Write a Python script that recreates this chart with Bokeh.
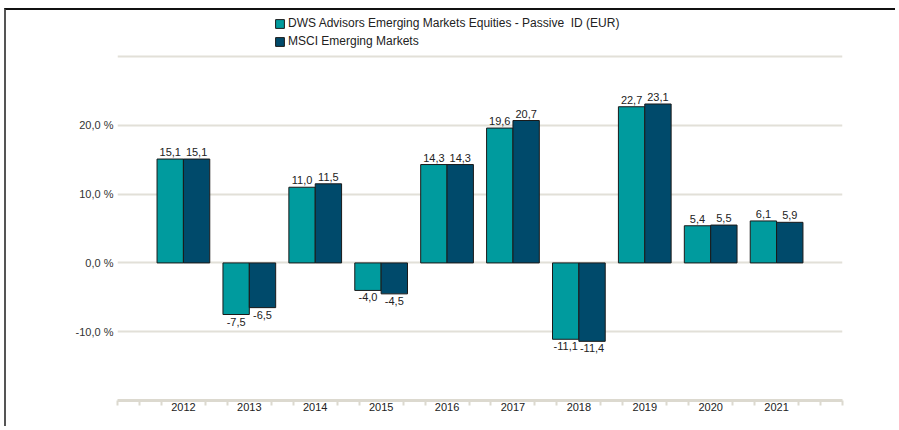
import numpy as np
from bokeh.plotting import figure
from bokeh.models import ColumnDataSource, FixedTicker, Legend, LegendItem
from bokeh.core.properties import value
from bokeh.embed import file_html
from bokeh.resources import INLINE

# ---- data ----
years = [2012, 2013, 2014, 2015, 2016, 2017, 2018, 2019, 2020, 2021]
fund_name = "DWS Advisors Emerging Markets Equities - Passive  ID (EUR)"
index_name = "MSCI Emerging Markets"
fund_values = [15.1, -7.5, 11.0, -4.0, 14.3, 19.6, -11.1, 22.7, 5.4, 6.1]
index_values = [15.1, -6.5, 11.5, -4.5, 14.3, 20.7, -11.4, 23.1, 5.5, 5.9]
y_ticks = [-20, -10, 0, 10, 20, 30]
y_tick_labels = {-20: "", -10: "-10,0 %", 0: "0,0 %", 10: "10,0 %", 20: "20,0 %", 30: ""}

TEAL = "#009B9E"
NAVY = "#004A6B"
FONT = "Liberation Sans"
BEIGE = "#DCD9CF"


def fmt(v):
    return f"{v:.1f}".replace(".", ",")


def make_source(vals, shift):
    return ColumnDataSource(dict(
        x=[y + shift for y in years],
        top=vals,
        label=[fmt(v) for v in vals],
        base=["bottom" if v >= 0 else "top" for v in vals],
        off=[-3 if v >= 0 else 3 for v in vals],
    ))


src_fund = make_source(fund_values, -0.2)
src_index = make_source(index_values, 0.2)

p = figure(width=891, height=418, x_range=(2011, 2022), y_range=(-20, 36.4),
           output_backend="svg", toolbar_location=None,
           min_border_left=111, min_border_right=55,
           min_border_top=2, min_border_bottom=28)
p.styles = {"border-top": "2px solid #111111", "border-left": "2px solid #555555",
            "margin-top": "8px", "margin-left": "4px"}
p.outline_line_color = None
p.background_fill_color = "white"
p.border_fill_color = "white"

r_fund = p.vbar(x="x", top="top", bottom=0, width=0.4, source=src_fund,
                fill_color=TEAL, line_color="#1a1a1a", line_width=1)
r_index = p.vbar(x="x", top="top", bottom=0, width=0.4, source=src_index,
                 fill_color=NAVY, line_color="#1a1a1a", line_width=1)

for src in (src_fund, src_index):
    p.text(x="x", y="top", text="label", source=src, text_align="center",
           text_baseline="base", y_offset="off", text_font=value(FONT),
           text_font_size="11px", text_color="#222222")

# x axis
minor = [t for t in np.round(np.arange(2011, 2022.01, 1 / 3), 4)
         if not (abs(t - round(t)) < 1e-6 and 2012 <= round(t) <= 2021)]
p.xaxis.ticker = FixedTicker(ticks=years, minor_ticks=list(minor))
p.xaxis.axis_line_color = BEIGE
p.xaxis.axis_line_width = 3
p.xaxis.major_tick_line_color = None
p.xaxis.major_tick_out = 0
p.xaxis.major_tick_in = 0
p.xaxis.minor_tick_line_color = BEIGE
p.xaxis.minor_tick_line_width = 2
p.xaxis.minor_tick_out = 5
p.xaxis.minor_tick_in = 0
p.xaxis.major_label_standoff = -3
p.xaxis.major_label_text_font = FONT
p.xaxis.major_label_text_font_size = "11px"
p.xaxis.major_label_text_color = "#222222"
p.xgrid.grid_line_color = None

# y axis
p.yaxis.ticker = FixedTicker(ticks=y_ticks)
p.yaxis.major_label_overrides = y_tick_labels
p.yaxis.axis_line_color = None
p.yaxis.major_tick_line_color = None
p.yaxis.major_tick_out = 0
p.yaxis.major_tick_in = 0
p.yaxis.minor_tick_line_color = None
p.yaxis.major_label_standoff = 4
p.yaxis.major_label_text_font = FONT
p.yaxis.major_label_text_font_size = "11px"
p.yaxis.major_label_text_color = "#333333"
p.ygrid.ticker = FixedTicker(ticks=y_ticks)
p.ygrid.grid_line_color = "#E2E0D8"
p.ygrid.grid_line_width = 2

legend = Legend(items=[LegendItem(label=fund_name, renderers=[r_fund]),
                       LegendItem(label=index_name, renderers=[r_index])],
                location=(157, 352), orientation="vertical",
                glyph_width=11, glyph_height=11, label_height=11,
                label_standoff=3, spacing=4, padding=0, margin=0,
                background_fill_alpha=0, border_line_alpha=0,
                label_text_font=FONT, label_text_font_size="12px",
                label_text_color="#222222")
p.add_layout(legend)

open("out.html", "w").write(file_html(p, INLINE))
